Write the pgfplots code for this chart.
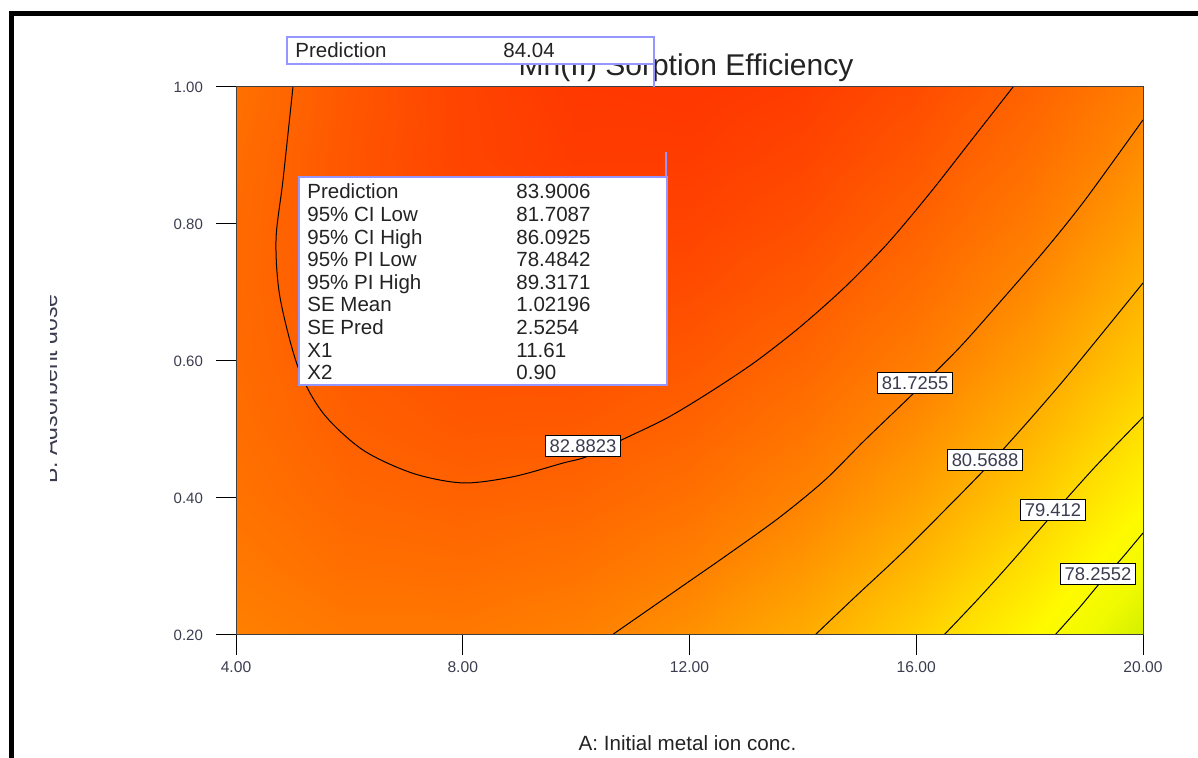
\documentclass[border=0pt]{standalone}
\usepackage{pgfplots}
\pgfplotsset{compat=1.18}
\usepackage{fontspec}
\setmainfont{Liberation Sans}
\definecolor{lav}{RGB}{150,150,255}
\definecolor{tlab}{RGB}{60,60,80}
\definecolor{btxt}{RGB}{35,35,35}
\begin{document}
\begin{tikzpicture}
\path[use as bounding box] (0,0) rectangle (599pt,379pt);
\draw[line width=2.3pt] (5.85pt,-3pt) -- (5.85pt,372.35pt) -- (603pt,372.35pt);
\begin{axis}[
  at={(118pt,61.5pt)}, anchor=south west,
  scale only axis, width=453.5pt, height=274pt,
  xmin=4, xmax=20, ymin=0.2, ymax=1.0,
  xtick={4,8,12,16,20}, ytick={0.2,0.4,0.6,0.8,1.0},
  tick align=outside, tick pos=left, major tick length=10pt,
  xticklabel style={font=\fontsize{7.8}{9}\selectfont, text=tlab},
  yticklabel style={font=\fontsize{7.5}{9}\selectfont, text=tlab, xshift=-3pt},
  /pgf/number format/fixed, /pgf/number format/fixed zerofill,
  /pgf/number format/precision=2, /pgf/number format/assume math mode=true,
  axis on top,
  axis line style={black!75, line width=0.5pt},
  tick style={black, line width=0.5pt},
  colormap={mn}{rgb255(0cm)=(205,238,0) rgb255(0.8cm)=(240,250,0) rgb255(1.5cm)=(255,250,0) rgb255(2.4cm)=(255,220,0) rgb255(3.6cm)=(255,175,0) rgb255(4.8cm)=(255,130,0) rgb255(5.9cm)=(255,95,0) rgb255(7.1cm)=(255,52,0)},
  point meta min=77, point meta max=84.1,
]
\addplot[surf, shader=interp, mesh/cols=9, mesh/rows=9, point meta=\thisrow{z}] table[x=x, y=y] {
x y z
4 0.2 81.875
6 0.2 82.113
8 0.2 82.113
10 0.2 81.875
12 0.2 81.401
14 0.2 80.688
16 0.2 79.738
18 0.2 78.551
20 0.2 77.126
4 0.3 82.111
6 0.3 82.415
8 0.3 82.483
10 0.3 82.313
12 0.3 81.905
14 0.3 81.260
16 0.3 80.377
18 0.3 79.257
20 0.3 77.899
4 0.4 82.296
6 0.4 82.668
8 0.4 82.803
10 0.4 82.700
12 0.4 82.359
14 0.4 81.781
16 0.4 80.966
18 0.4 79.913
20 0.4 78.623
4 0.5 82.432
6 0.5 82.871
8 0.5 83.073
10 0.5 83.037
12 0.5 82.764
14 0.5 82.253
16 0.5 81.505
18 0.5 80.519
20 0.5 79.296
4 0.6 82.517
6 0.6 83.024
8 0.6 83.293
10 0.6 83.324
12 0.6 83.118
14 0.6 82.675
16 0.6 81.994
18 0.6 81.075
20 0.6 79.919
4 0.7 82.553
6 0.7 83.126
8 0.7 83.463
10 0.7 83.561
12 0.7 83.422
14 0.7 83.046
16 0.7 82.432
18 0.7 81.581
20 0.7 80.492
4 0.8 82.538
6 0.8 83.179
8 0.8 83.582
10 0.8 83.748
12 0.8 83.677
14 0.8 83.368
16 0.8 82.821
18 0.8 82.037
20 0.8 81.016
4 0.9 82.474
6 0.9 83.182
8 0.9 83.652
10 0.9 83.886
12 0.9 83.881
14 0.9 83.639
16 0.9 83.160
18 0.9 82.443
20 0.9 81.489
4 1.0 82.359
6 1.0 83.134
8 1.0 83.672
10 1.0 83.973
12 1.0 84.036
14 1.0 83.861
16 1.0 83.449
18 1.0 82.799
20 1.0 81.912
};
% contour 82.8823
\addplot[black, line width=0.5pt, smooth, tension=0.5] coordinates {
(5.005,1.000) (4.829,0.864) (4.706,0.777) (4.776,0.693) (5.094,0.591) (5.535,0.524) (6.240,0.470) (7.122,0.436) (8.004,0.422) (8.886,0.431) (9.768,0.451) (10.174,0.460) (10.809,0.485) (11.603,0.5168) (12.362,0.5547) (13.156,0.5985) (13.949,0.6496) (14.743,0.7080) (15.502,0.7723) (16.243,0.8453) (16.948,0.9197) (17.707,1.000)};
% contour 81.7255
\addplot[black, line width=0.5pt, smooth, tension=0.5] coordinates {
(10.633,0.200) (11.850,0.270) (12.714,0.3197) (13.597,0.3723) (14.390,0.4263) (15.096,0.4847) (16.013,0.5577) (16.772,0.6204) (17.477,0.6861) (18.271,0.7620) (18.977,0.835) (20.000,0.952)};
% contour 80.5688
\addplot[black, line width=0.5pt, smooth, tension=0.5] coordinates {
(14.214,0.200) (14.920,0.2555) (15.713,0.3168) (16.472,0.3796) (17.213,0.4423) (17.918,0.5066) (18.589,0.5708) (19.241,0.6365) (20.000,0.7139)};
% contour 79.412
\addplot[black, line width=0.5pt, smooth, tension=0.5] coordinates {
(16.489,0.200) (17.124,0.2555) (17.742,0.3124) (18.412,0.3766) (19.153,0.4453) (20.000,0.518)};
% contour 78.2552
\addplot[black, line width=0.5pt, smooth, tension=0.5] coordinates {
(18.448,0.200) (18.889,0.241) (19.241,0.276) (19.647,0.314) (20.000,0.349)};
\tikzset{clab/.style={draw=black, fill=white, line width=0.5pt, inner xsep=2pt, inner ysep=0pt, minimum height=10.5pt, font=\fontsize{9.2}{10}\selectfont, text=tlab}}
\node[clab] at (axis cs:10.121,0.476) {82.8823};
\node[clab] at (axis cs:15.978,0.568) {81.7255};
\node[clab] at (axis cs:17.213,0.4555) {80.5688};
\node[clab] at (axis cs:18.412,0.3825) {79.412};
\node[clab] at (axis cs:19.206,0.289) {78.2552};
\end{axis}
% title
\node[anchor=base, font=\fontsize{15}{18}\selectfont, text=btxt] at (343pt,341pt) {Mn(II) Sorption Efficiency};
% x label
\node[anchor=base, font=\fontsize{10.3}{12}\selectfont, text=btxt] at (343.75pt,3.5pt) {A: Initial metal ion conc.};
% y label (clipped at the left as in the reference)
\begin{scope}
\clip (25.2pt,0pt) rectangle (60pt,379pt);
\node[rotate=90, anchor=base, font=\fontsize{11.5}{13}\selectfont, text=tlab] at (28.6pt,184.5pt) {B: Adsorbent dose};
\end{scope}
% top prediction box
\draw[lav, line width=0.75pt] (327pt,347pt) -- (327pt,335.5pt);
\draw[lav, line width=0.75pt, fill=white] (143.5pt,347pt) rectangle (327pt,360.5pt);
\node[anchor=base west, inner sep=0pt, font=\fontsize{10.25}{11}\selectfont, text=btxt] at (147.5pt,350pt) {Prediction};
\node[anchor=base west, inner sep=0pt, font=\fontsize{10.25}{11}\selectfont, text=btxt] at (251.5pt,350pt) {84.04};
% large prediction box
\draw[lav, line width=0.75pt] (333pt,290.5pt) -- (333pt,303pt);
\draw[lav, line width=0.75pt, fill=white] (149.5pt,186.5pt) rectangle (333.5pt,290.5pt);
\begin{scope}[every node/.style={anchor=base west, inner sep=0pt, font=\fontsize{10.25}{11}\selectfont, text=btxt}]
\node at (153.5pt,279.5pt) {Prediction};   \node at (258pt,279.5pt) {83.9006};
\node at (153.5pt,268.2pt) {95\% CI Low};  \node at (258pt,268.2pt) {81.7087};
\node at (153.5pt,256.9pt) {95\% CI High}; \node at (258pt,256.9pt) {86.0925};
\node at (153.5pt,245.6pt) {95\% PI Low};  \node at (258pt,245.6pt) {78.4842};
\node at (153.5pt,234.3pt) {95\% PI High}; \node at (258pt,234.3pt) {89.3171};
\node at (153.5pt,223.0pt) {SE Mean};      \node at (258pt,223.0pt) {1.02196};
\node at (153.5pt,211.7pt) {SE Pred};      \node at (258pt,211.7pt) {2.5254};
\node at (153.5pt,200.4pt) {X1};           \node at (258pt,200.4pt) {11.61};
\node at (153.5pt,189.1pt) {X2};           \node at (258pt,189.1pt) {0.90};
\end{scope}
\end{tikzpicture}
\end{document}
